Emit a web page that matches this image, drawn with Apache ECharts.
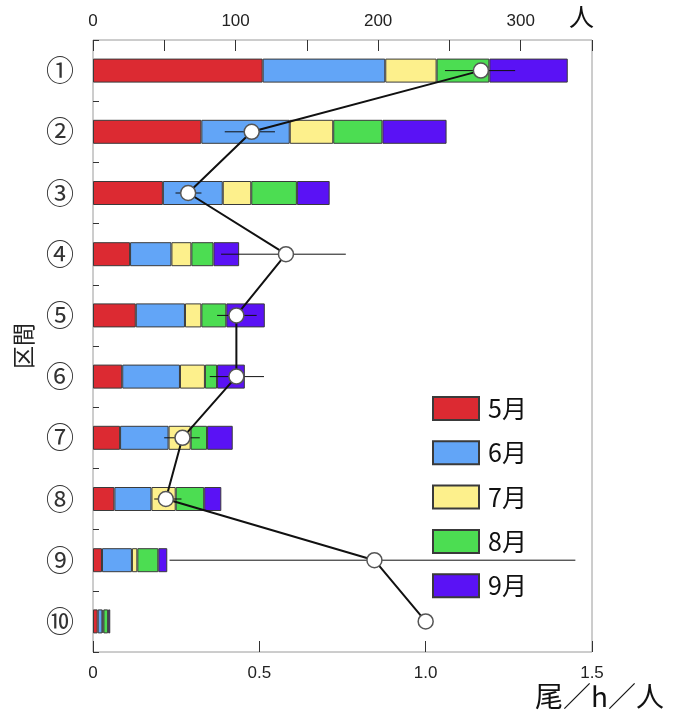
<!DOCTYPE html>
<html>
<head>
<meta charset="utf-8">
<script src="https://cdn.jsdelivr.net/npm/echarts@6/dist/echarts.min.js"></script>
<style>html,body{margin:0;padding:0;background:#fff}#c{width:673px;height:718px}</style>
</head>
<body>
<div id="c"></div>
<script>
// ---- data ----
var categories = ['①','②','③','④','⑤','⑥','⑦','⑧','⑨','⑩'];
var months = ['5月','6月','7月','8月','9月'];
var may  = [119, 76, 49, 26, 30, 20.5, 19, 15, 6.3, 3.3];
var jun  = [86, 62, 42, 29, 34.5, 40.5, 34, 26, 21, 3.3];
var jul  = [36, 30.5, 20, 14, 11.5, 17.5, 15.5, 17, 3.8, 0.7];
var aug  = [37, 34.5, 32, 15.5, 17.5, 8.5, 11.5, 20, 14.7, 3.3];
var sep  = [55, 45, 23, 18, 27, 19.5, 18, 12, 6.3, 1.5];
var cpue = [1.166, 0.477, 0.286, 0.58, 0.431, 0.431, 0.269, 0.219, 0.846, 1.0];
var errLow  = [1.058, 0.396, 0.248, 0.385, 0.373, 0.351, 0.214, 0.184, 0.23, null];
var errHigh = [1.269, 0.547, 0.326, 0.76, 0.492, 0.514, 0.321, 0.266, 1.45, null];
var topTicks = [0, 100, 200, 300];
var bottomTicks = ['0', '0.5', '1.0', '1.5'];

var colors = ['#dc2a32', '#62a5f7', '#fdf08c', '#4cdd52', '#5a12f5'];
var monthData = [may, jun, jul, aug, sep];

var chart = echarts.init(document.getElementById('c'), null, {renderer: 'canvas'});

var barSeries = months.map(function (m, i) {
  return {
    name: m,
    type: 'bar',
    stack: 'total',
    xAxisIndex: 0,
    yAxisIndex: 0,
    barWidth: 24,
    itemStyle: {color: colors[i], borderColor: '#3a3a3a', borderWidth: 1},
    emphasis: {disabled: true},
    data: monthData[i],
    z: 2
  };
});

var errData = [];
for (var i = 0; i < categories.length; i++) {
  if (errLow[i] != null) errData.push([errLow[i], errHigh[i], i]);
}

var lineData = cpue.map(function (v, i) { return [v, i]; });

var font = '"Liberation Sans", Arial, sans-serif';
var jp = '"Noto Sans CJK JP", sans-serif';

chart.setOption({
  animation: false,
  backgroundColor: '#fff',
  grid: {left: 93, right: 81, top: 40, bottom: 66, show: true, borderColor: '#9a9a9a', borderWidth: 1, backgroundColor: 'transparent'},
  legend: {
    data: months,
    orient: 'vertical',
    left: 427,
    top: 391,
    itemWidth: 46,
    itemHeight: 23,
    itemGap: 19.3,
    icon: 'rect',
    textStyle: {fontFamily: jp, fontSize: 25, color: '#111', padding: [0, 0, 0, 4]},
    selectedMode: false
  },
  xAxis: [
    {
      type: 'value', position: 'top', min: 0, max: 350, interval: 50,
      axisLine: {show: false},
      axisTick: {show: true, inside: true, length: 11, lineStyle: {color: '#333'}},
      splitLine: {show: false},
      axisLabel: {
        margin: 10, fontFamily: font, fontSize: 17, color: '#222',
        formatter: function (v) { return topTicks.indexOf(v) >= 0 ? String(v) : ''; }
      }
    },
    {
      type: 'value', position: 'bottom', min: 0, max: 1.5, interval: 0.5,
      axisLine: {show: false},
      axisTick: {show: true, inside: true, length: 11, lineStyle: {color: '#333'}},
      splitLine: {show: false},
      axisLabel: {
        margin: 13, fontFamily: font, fontSize: 17, color: '#222',
        formatter: function (v) { return bottomTicks[Math.round(v / 0.5)]; }
      }
    }
  ],
  yAxis: {
    type: 'category', data: categories, inverse: true,
    name: '区間', nameLocation: 'middle', nameRotate: 90, nameGap: 54,
    nameTextStyle: {fontFamily: jp, fontSize: 23, color: '#222'},
    axisLine: {show: false},
    axisTick: {show: true, inside: true, length: 6, lineStyle: {color: '#333'}},
    axisLabel: {margin: 19, fontFamily: jp, fontSize: 28, color: '#333'}
  },
  graphic: [
    {type: 'text', left: 569, top: 4, style: {text: '人', fontFamily: jp, fontSize: 25, fill: '#111'}},
    {type: 'text', left: 535, top: 682, style: {text: '尾／h／人', fontFamily: jp, fontSize: 28, fill: '#111'}}
  ],
  series: barSeries.concat([
    {
      type: 'custom',
      xAxisIndex: 1, yAxisIndex: 0,
      z: 5,
      renderItem: function (params, api) {
        var y = api.value(2);
        var p1 = api.coord([api.value(0), y]);
        var p2 = api.coord([api.value(1), y]);
        return {type: 'line', shape: {x1: p1[0], y1: p1[1], x2: p2[0], y2: p2[1]}, style: {stroke: '#111', lineWidth: 1}};
      },
      encode: {x: [0, 1], y: 2},
      data: errData
    },
    {
      type: 'line',
      xAxisIndex: 1, yAxisIndex: 0,
      z: 10,
      data: lineData,
      symbol: 'circle', symbolSize: 15,
      lineStyle: {color: '#111', width: 2},
      itemStyle: {color: '#fff', borderColor: '#555', borderWidth: 1.5},
      emphasis: {disabled: true}
    }
  ])
});
</script>
</body>
</html>
